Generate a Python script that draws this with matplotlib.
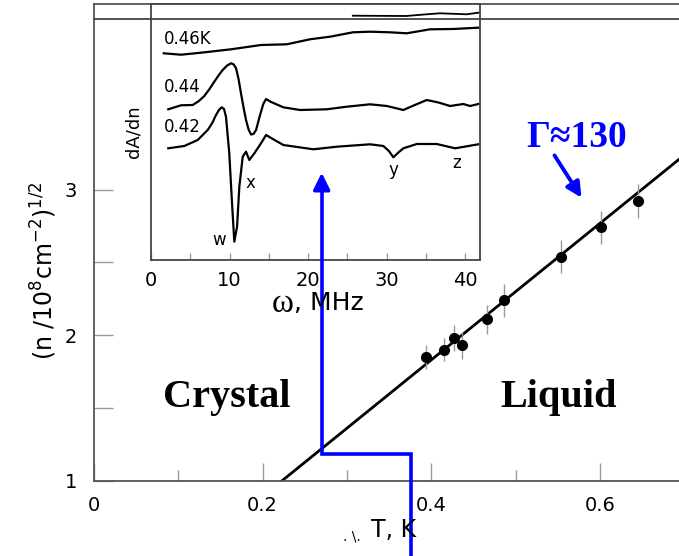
import matplotlib.pyplot as plt
from matplotlib.lines import Line2D

# main panel: sqrt(n) vs T, points with error bars
T = [0.394, 0.415, 0.427, 0.436, 0.466, 0.486, 0.554, 0.601, 0.645]
sqrt_n = [1.85, 1.90, 1.98, 1.93, 2.11, 2.24, 2.54, 2.74, 2.92]
sqrt_n_err = [0.08, 0.08, 0.09, 0.09, 0.10, 0.115, 0.115, 0.115, 0.115]
fit_T = [0.2226, 0.75]
fit_slope, fit_intercept = 4.685, -0.043

# blue melting path (T, sqrt n)
path_T = [0.376, 0.376, 0.270, 0.270]
path_n = [0.485, 1.185, 1.185, 3.00]
path_tip = (0.270, 3.134)

# inset: dA/dn traces (omega in MHz, signal in arbitrary units)
w_046 = [1.62, 3.82, 6.37, 10.19, 14.01, 17.29, 20.25, 22.80, 25.73, 27.90, 30.45, 32.57, 35.54, 38.47, 41.66]
s_046 = [206.7, 205.3, 207.3, 210.7, 215, 215.7, 220.7, 223.3, 227.7, 228.3, 227.7, 226.7, 230.7, 231, 232.3]

w_044 = [2.20, 3.82, 5.31, 6.10, 6.79, 7.45, 8.06, 8.60, 9.13, 9.70, 10.19, 10.55, 10.83, 11.15,
         11.46, 11.80, 12.10, 12.45, 12.74, 13.05, 13.38, 13.89, 14.30, 14.65, 15.30, 16.85,
         18.98, 22.38, 24.93, 27.90, 30.03, 32.14, 33.60, 35.12, 36.60, 38.09, 39.78, 40.64, 41.69]
s_044 = [150.7, 154.7, 155, 159, 164, 171, 178.3, 184.5, 190, 194.5, 196.7, 195.5, 191.7, 181,
         166.7, 152, 140, 130, 125.5, 126, 130, 145, 156, 161, 158, 152.7,
         150, 150.7, 153.3, 155.7, 154, 150, 155, 160, 157.5, 154, 156, 154, 156]

w_042 = [2.20, 4.24, 5.95, 7.22, 7.80, 8.28, 8.70, 9.01, 9.30, 9.55, 9.97, 10.32, 10.61, 10.96,
         11.25, 11.68, 12.10, 12.52, 13.16, 14.01, 14.65, 15.30, 16.85, 20.68, 23.66, 27.90,
         29.59, 30.30, 30.87, 31.50, 32.14, 33.85, 36.39, 38.73, 41.69]
s_042 = [111.7, 114, 120, 130, 137, 145, 150.5, 152.7, 151, 143.3, 106.7, 56.7, 18.3, 33.3,
         73.3, 103.3, 108.3, 100, 106.7, 116.7, 125, 122, 115, 110.7, 113.3, 115.7,
         114, 109, 102.7, 107.5, 111.7, 116, 116, 111.7, 115.7]

# fragment of the trace above, cut by the panel edge
w_top = [25.7, 32.5, 35.1, 36.8, 40.2, 41.7]
s_top = [244.3, 244.0, 245.7, 246.7, 245.7, 247.3]

trace_labels = ['0.46K', '0.44', '0.42']
peak_labels = ['w', 'x', 'y', 'z']

fig = plt.figure(figsize=(6.79, 5.56), dpi=100)
ax = fig.add_axes([94/679, 75/556, 585/679, 477/556])
ax.set_xlim(0, 0.6937)
ax.set_ylim(1, 4.273)

ax.spines['right'].set_visible(False)
for s in ['left', 'bottom', 'top']:
    ax.spines[s].set_color('#555555')
    ax.spines[s].set_linewidth(1.3)

ax.set_xticks([0, 0.2, 0.4, 0.6])
ax.set_xticklabels(['0', '0.2', '0.4', '0.6'])
ax.set_xticks([0.1, 0.3, 0.5], minor=True)
ax.set_yticks([1, 2, 3])
ax.set_yticks([1.5, 2.5], minor=True)
ax.tick_params(axis='x', which='major', direction='in', length=13, width=1, color='#999999',
               labelsize=14, pad=11)
ax.tick_params(axis='x', which='minor', direction='in', length=8, width=1, color='#999999')
ax.tick_params(axis='y', which='both', direction='in', length=14, width=1, color='#999999',
               labelsize=14, pad=12)

ax.errorbar(T, sqrt_n, yerr=sqrt_n_err, fmt='o', color='black', ms=7,
            ecolor='#999999', elinewidth=1, capsize=0, zorder=3)
ax.plot(fit_T, [fit_intercept + fit_slope * t for t in fit_T], color='black', lw=2, zorder=2)

ax.text(0.1580, 1.57, 'Crystal', fontsize=29, fontweight='bold', family='Liberation Serif',
        ha='center', va='center')
ax.text(0.5505, 1.57, 'Liquid', fontsize=29, fontweight='bold', family='Liberation Serif',
        ha='center', va='center')
ax.text(0.5727, 3.36, 'Γ≈130', fontsize=27, fontweight='bold', family='Liberation Serif',
        color='blue', ha='center', va='center')
ax.annotate('', xy=(0.5799, 2.928), xytext=(0.5443, 3.25),
            arrowprops=dict(arrowstyle='-|>,head_length=0.9,head_width=0.45', color='blue', lw=2.8))

fig.text(44/679, 1 - 271/556, r'(n /10$^8$cm$^{-2}$)$^{1/2}$', rotation=90, fontsize=17,
         ha='center', va='center')
fig.text(394/679, 1 - 530/556, 'T, K', fontsize=17, ha='center', va='center')
fig.text(352/679, 1 - 536/556, '. \\.', fontsize=10, ha='center', va='center')

# inset
axin = fig.add_axes([151/679, 296/556, 329/679, 256/556])
axin.set_xlim(0, 41.9)
axin.set_ylim(0, 256)
for xs, ys in [(w_046, s_046), (w_044, s_044), (w_042, s_042)]:
    axin.plot(xs, ys, color='black', lw=1.6, solid_joinstyle='round')
axin.plot(w_top, s_top, color='black', lw=1.3)
for s in axin.spines.values():
    s.set_color('#444444')
    s.set_linewidth(1.3)
axin.set_yticks([])
axin.set_xticks([0, 10, 20, 30, 40])
axin.set_xticks([5, 15, 25, 35], minor=True)
axin.tick_params(axis='x', which='both', direction='in', length=5, width=1, color='#999999',
                 labelsize=14, pad=8)
axin.set_ylabel('dA/dn', fontsize=13, labelpad=6)
# x label: serif omega, sans units
fig.text(272/679, 1 - 304/556, 'ω', fontsize=24, family='Liberation Serif', ha='left', va='center')
fig.text(294/679, 1 - 303/556, ', MHz', fontsize=18, ha='left', va='center')

label_pos = [(1.6, 220.7), (1.6, 173.3), (1.6, 132.7)]
for lab, (xx, yy) in zip(trace_labels, label_pos):
    axin.text(xx, yy, lab, fontsize=12, ha='left', va='center')
peak_pos = [(8.7, 20), (12.7, 77), (30.9, 90), (38.9, 97)]
for lab, (xx, yy) in zip(peak_labels, peak_pos):
    axin.text(xx, yy, lab, fontsize=12, ha='center', va='center')

# overlay with the blue path on top of everything
ov = fig.add_axes(ax.get_position(), facecolor='none')
ov.set_xlim(ax.get_xlim())
ov.set_ylim(ax.get_ylim())
ov.axis('off')
ov.plot(path_T, path_n, color='blue', lw=2.6, clip_on=False, solid_joinstyle='miter')
ov.annotate('', xy=path_tip, xytext=(path_T[-1], path_n[-1]),
            arrowprops=dict(arrowstyle='-|>,head_length=1.0,head_width=0.5', color='blue', lw=2.6))

# edge of the panel above
fig.add_artist(Line2D([94/679, 1.0], [1 - 19/556, 1 - 19/556], color='#444444', lw=1.3))

fig.savefig('out.png', dpi=100)
